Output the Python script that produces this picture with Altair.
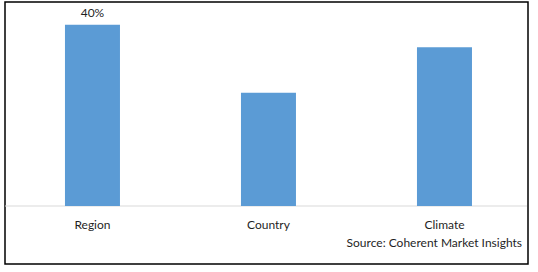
import altair as alt
import pandas as pd

categories = ["Region", "Country", "Climate"]
shares = [40, 25, 35]
bar_labels = ["40%", "", ""]
source_note = ["Source: Coherent Market Insights"]
baseline_value = [0]

df = pd.DataFrame({"cat": categories, "share": shares, "label": bar_labels})
note_df = pd.DataFrame({"note": source_note})
base_df = pd.DataFrame({"share": baseline_value})

W, H = 523, 262
FONT = "Lato"
TXT = "#1f1f1f"

x_enc = alt.X(
    "cat:N",
    sort=categories,
    scale=alt.Scale(paddingInner=0.6875, paddingOuter=0.3295, align=0.517),
    axis=alt.Axis(
        title=None, orient="bottom", offset=-58, domain=False, ticks=False,
        tickSize=0, labelPadding=18, labelBaseline="middle", labelAngle=0,
        labelFont=FONT, labelFontSize=12, labelColor=TXT, grid=False,
    ),
)
y_scale = alt.Scale(domain=[0, 45], range=[204, 0], nice=False, zero=True)
y_enc = alt.Y("share:Q", scale=y_scale, axis=None)

baseline = alt.Chart(base_df).mark_rule(color="#d9d9d9", strokeWidth=1).encode(
    y=alt.Y("share:Q", scale=y_scale, axis=None), x=alt.value(0), x2=alt.value(W - 1)
)
base = alt.Chart(df)
bars = base.mark_bar(color="#5B9BD5").encode(x=x_enc, y=y_enc)
text = base.mark_text(baseline="bottom", dy=-5, font=FONT, fontSize=12, color=TXT).encode(
    x=alt.X("cat:N", sort=categories), y=alt.Y("share:Q"), text="label:N"
)
note = alt.Chart(note_df).mark_text(
    align="right", baseline="middle", font=FONT, fontSize=12, color=TXT
).encode(x=alt.value(W - 6), y=alt.value(241), text="note:N")

chart = (
    alt.layer(baseline, bars, text, note)
    .properties(
        width=W, height=H,
        padding={"left": 5, "top": 2, "right": 10, "bottom": 8},
        autosize=alt.AutoSizeParams(type="none"),
        background="white",
    )
    .configure_view(stroke="black", strokeWidth=1.5)
)

chart.save("out.html", embed_options={"renderer": "svg", "actions": False})
